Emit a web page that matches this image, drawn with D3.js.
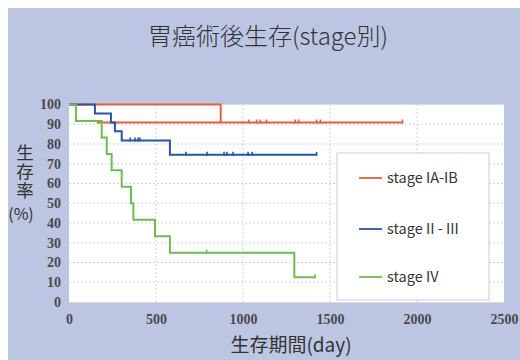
<!DOCTYPE html>
<html><head><meta charset="utf-8">
<script src="https://cdn.jsdelivr.net/npm/d3@7"></script>
<style>
html,body{margin:0;padding:0;background:#fff;}
svg{display:block;}
.tk text{font-family:'Liberation Serif','DejaVu Serif',serif;font-size:14px;font-weight:bold;fill:#4a4a4a;}
</style></head>
<body>
<svg id="chart" width="520" height="360"></svg>
<script>
// ---- data ----
const title = "胃癌術後生存(stage別)";
const seriesNames = ["stage IA-IB", "stage II - III", "stage IV"];
const xTicks = [0, 500, 1000, 1500, 2000, 2500];
const yTicks = [0, 10, 20, 30, 40, 50, 60, 70, 80, 90, 100];
// step points: [day, survival %]
const redSteps = [[0, 100], [872, 90.9]];
const redEnd = 1917;
const redCensor = [1034, 1078, 1098, 1135, 1300, 1320, 1423, 1445, 1917];
const redGuide = [[160, 90.9], [872, 90.9]];
const blueSteps = [[0, 100], [149, 95.5], [241, 90.9], [264, 86.4], [303, 81.8], [580, 74.5]];
const blueEnd = 1423;
const blueCensor = [351, 379, 397, 408, 672, 793, 891, 908, 943, 1029, 1052, 1423];
const greenSteps = [[0, 100], [40, 91.7], [188, 83.3], [217, 75], [245, 66.7], [303, 58.3], [356, 50], [370, 41.7], [494, 33.3], [580, 25], [1295, 12.5]];
const greenEnd = 1414;
const greenCensor = [791, 1414];
const colors = ["#e45f3c", "#2656a6", "#6dbd4e"];

// ---- drawing ----
const svg = d3.select("#chart");
svg.append("rect").attr("x", 8).attr("y", 8).attr("width", 512).attr("height", 352).attr("fill", "#bcc6e3");

const x = d3.scaleLinear().domain([0, 2500]).range([69, 504]);
const y = d3.scaleLinear().domain([0, 100]).range([302, 104.5]);

svg.append("rect").attr("x", x(0)).attr("y", y(100)).attr("width", x(2500) - x(0)).attr("height", y(0) - y(100)).attr("fill", "#fff");

// grid
svg.append("g").selectAll("line").data(yTicks.filter(d => d > 0)).join("line")
  .attr("x1", x(0)).attr("x2", x(2500)).attr("y1", d => y(d)).attr("y2", d => y(d))
  .attr("stroke", "#cfd3dc").attr("stroke-width", 1).attr("stroke-dasharray", "2,2");
svg.append("g").selectAll("line").data(xTicks.filter(d => d > 0 && d < 2500)).join("line")
  .attr("x1", d => x(d)).attr("x2", d => x(d)).attr("y1", y(0)).attr("y2", y(100))
  .attr("stroke", "#cfd3dc").attr("stroke-width", 1).attr("stroke-dasharray", "2,2");

// axes
const yAxis = svg.append("g").attr("class", "tk").attr("transform", `translate(${x(0)},0)`)
  .call(d3.axisLeft(y).tickValues(yTicks).tickFormat(d3.format("d")).tickSize(4).tickPadding(4));
yAxis.select(".domain").remove();
yAxis.selectAll("line").attr("stroke", "#c8ccd6");

const xAxis = svg.append("g").attr("class", "tk").attr("transform", `translate(0,${y(0)})`)
  .call(d3.axisBottom(x).tickValues(xTicks).tickFormat(d3.format("d")).tickSize(3).tickPadding(9));
xAxis.select(".domain").attr("stroke", "#d8dbe2");
xAxis.selectAll("line").attr("stroke", "#c8ccd6");
svg.selectAll(".tk").attr("font-family", null).attr("font-size", null);

// curves
function stepPath(steps, end) {
  const pts = steps.concat([[end, steps[steps.length - 1][1]]]);
  return d3.line().x(d => x(d[0])).y(d => y(d[1])).curve(d3.curveStepAfter)(pts);
}
function survAt(steps, t) {
  let v = steps[0][1];
  for (const s of steps) if (s[0] <= t) v = s[1];
  return v;
}
const series = [
  {steps: redSteps, end: redEnd, censor: redCensor, color: colors[0]},
  {steps: blueSteps, end: blueEnd, censor: blueCensor, color: colors[1]},
  {steps: greenSteps, end: greenEnd, censor: greenCensor, color: colors[2]}
];
const cg = svg.append("g");
cg.append("path").attr("d", d3.line().x(d => x(d[0])).y(d => y(d[1]))(redGuide))
  .attr("fill", "none").attr("stroke", colors[0]).attr("stroke-width", 2);
series.forEach(s => {
  cg.append("path").attr("d", stepPath(s.steps, s.end))
    .attr("fill", "none").attr("stroke", s.color).attr("stroke-width", 2);
  cg.append("g").selectAll("line").data(s.censor).join("line")
    .attr("x1", d => x(d)).attr("x2", d => x(d))
    .attr("y1", d => y(survAt(s.steps, d)) + 1).attr("y2", d => y(survAt(s.steps, d)) - 3)
    .attr("stroke", s.color).attr("stroke-width", 1.6);
});

// legend
const lg = svg.append("g");
lg.append("rect").attr("x", 337).attr("y", 153).attr("width", 152).attr("height", 147)
  .attr("fill", "#fff").attr("stroke", "#c9ccd3").attr("stroke-width", 1);
const ly = [178, 229, 277];
seriesNames.forEach((n, i) => {
  lg.append("line").attr("x1", 359).attr("x2", 382).attr("y1", ly[i]).attr("y2", ly[i])
    .attr("stroke", colors[i]).attr("stroke-width", 1.8);
  lg.append("text").attr("x", 387).attr("y", ly[i]).attr("dy", "0.35em")
    .attr("font-family", "'Noto Sans CJK JP','Noto Sans',sans-serif").attr("font-size", 14.5)
    .attr("fill", "#333").text(n);
});

// titles
const cjk = "'Noto Sans CJK JP','Noto Sans CJK SC',sans-serif";
svg.append("text").attr("x", 268).attr("y", 45).attr("text-anchor", "middle")
  .attr("font-family", cjk).attr("font-size", 24).attr("font-weight", 300).attr("fill", "#333").text(title);
svg.append("text").attr("x", 25).attr("y", 144)
  .attr("writing-mode", "vertical-rl").attr("letter-spacing", 1.5)
  .attr("font-family", cjk).attr("font-size", 17.5).attr("fill", "#333").text("生存率");
svg.append("text").attr("x", 21).attr("y", 220).attr("text-anchor", "middle")
  .attr("font-family", cjk).attr("font-size", 16).attr("fill", "#333").text("(%)");
svg.append("text").attr("x", 291).attr("y", 352).attr("text-anchor", "middle")
  .attr("font-family", cjk).attr("font-size", 19).attr("fill", "#333").text("生存期間(day)");
</script>
</body></html>
